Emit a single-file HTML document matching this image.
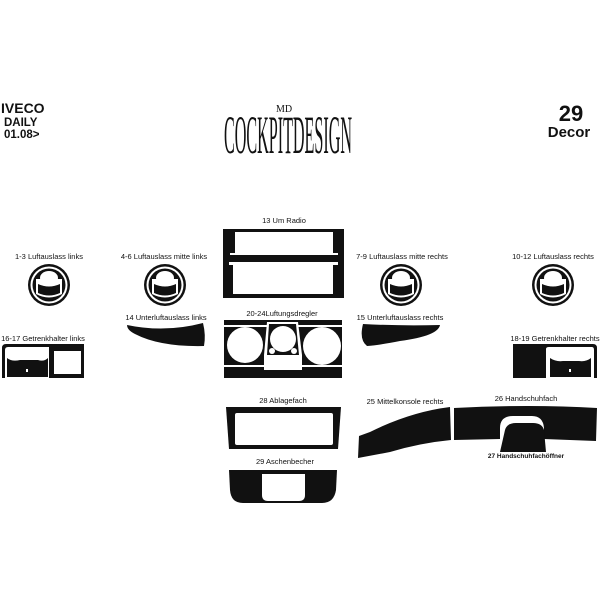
<!DOCTYPE html>
<html><head><meta charset="utf-8"><style>
html,body{margin:0;padding:0;background:#fff;}
svg{display:block}
text{font-family:"Liberation Sans",sans-serif;fill:#111}
</style></head><body>
<svg width="600" height="600" viewBox="0 0 600 600" xmlns="http://www.w3.org/2000/svg">
<rect width="600" height="600" fill="#fff"/>
<!-- header -->
<text x="1" y="113" font-size="14" font-weight="bold">IVECO</text>
<text x="4" y="126" font-size="11.5" font-weight="bold">DAILY</text>
<text x="4" y="138" font-size="11.5" font-weight="bold">01.08&gt;</text>
<text x="571" y="121" font-size="22" font-weight="bold" text-anchor="middle">29</text>
<text x="569" y="137" font-size="15" font-weight="bold" text-anchor="middle">Decor</text>
<text x="288" y="153" font-size="30" text-anchor="middle" textLength="128" lengthAdjust="spacingAndGlyphs" transform="translate(288 153) scale(1 1.8) translate(-288 -153)" style="font-family:'Liberation Serif',serif">COCKPITDESIGN</text>
<text x="284" y="112" font-size="10" text-anchor="middle" style="font-family:'Liberation Serif',serif">MD</text>

<!-- labels -->
<g font-size="7.5">
<text x="49" y="259" text-anchor="middle">1-3 Luftauslass links</text>
<text x="164" y="259" text-anchor="middle">4-6 Luftauslass mitte links</text>
<text x="284" y="223" text-anchor="middle">13 Um Radio</text>
<text x="402" y="259" text-anchor="middle">7-9 Luftauslass mitte rechts</text>
<text x="553" y="259" text-anchor="middle">10-12 Luftauslass rechts</text>
<text x="166" y="320" text-anchor="middle">14 Unterluftauslass links</text>
<text x="282" y="316" text-anchor="middle">20-24Luftungsdregler</text>
<text x="400" y="320" text-anchor="middle">15 Unterluftauslass rechts</text>
<text x="43" y="341" text-anchor="middle">16-17 Getrenkhalter links</text>
<text x="555" y="341" text-anchor="middle">18-19 Getrenkhalter rechts</text>
<text x="283" y="403" text-anchor="middle">28  Ablagefach</text>
<text x="405" y="404" text-anchor="middle">25 Mittelkonsole rechts</text>
<text x="526" y="401" text-anchor="middle">26 Handschuhfach</text>
<text x="285" y="464" text-anchor="middle">29 Aschenbecher</text>
<text x="526" y="458" text-anchor="middle" font-size="6.5" font-weight="bold">27 Handschuhfachöffner</text>
</g>

<!-- vents -->
<defs>
<g id="vent">
<circle cx="0" cy="0" r="21" fill="#111"/>
<circle cx="0" cy="0" r="18.5" fill="#fff"/>
<circle cx="0" cy="0" r="16.5" fill="#111"/>
<path d="M-13 -6 L-13 9 Q0 16 13 9 L13 -6 Z" fill="#fff"/>
<path d="M-11 -1 L-11 8 Q0 13 11 8 L11 -1 Q0 4 -11 -1Z" fill="#111"/>
<ellipse cx="0" cy="-7" rx="9" ry="7" fill="#fff"/>
</g>
</defs>
<use href="#vent" x="49" y="285"/>
<use href="#vent" x="165" y="285"/>
<use href="#vent" x="401" y="285"/>
<use href="#vent" x="553" y="285"/>

<!-- radio -->
<rect x="223" y="229" width="121" height="69" fill="#111"/>
<path d="M235 232 H333 V253 H338 V255 H230 V253 H235Z" fill="#fff"/>
<path d="M233 265 H229 V262 H338 V265 H333 V294 H233Z" fill="#fff"/>

<!-- vent regulator -->
<rect x="224" y="320" width="118" height="58" fill="#111"/>
<rect x="224" y="325" width="118" height="2" fill="#fff"/>
<rect x="224" y="365" width="118" height="2" fill="#fff"/>
<circle cx="245" cy="345" r="18" fill="#fff"/>
<circle cx="322" cy="346" r="19" fill="#fff"/>
<path d="M267 322 H298 L302 355 L302 370 H264 L264 355Z" fill="#fff"/>
<path d="M269 324 H296 L299 355 H267Z" fill="#111"/>
<circle cx="283" cy="339" r="13" fill="#fff"/>
<circle cx="272" cy="351" r="3" fill="#fff"/>
<circle cx="294" cy="351" r="3" fill="#fff"/>

<!-- under vents -->
<path d="M127 325 Q165 333 203 323 Q206 335 204 346 Q160 347 135 334 Q127 330 127 325Z" fill="#111"/>
<path d="M363 324 Q400 326 440 325 Q438 336 400 341 Q380 345 367 346 Q359 340 363 324Z" fill="#111"/>

<!-- cup holders -->
<path d="M2 378 V348 Q2 344 6 344 H84 V378Z" fill="#111"/>
<path d="M5 378 V350 Q5 347 8 347 H49 V378Z" fill="#fff"/>
<path d="M7 358 Q12 362 20 360 H38 Q44 362 48 358 V377 H7Z" fill="#111"/>
<rect x="26" y="369" width="2" height="3" fill="#fff"/>
<rect x="54" y="351" width="27" height="23" fill="#fff"/>
<path d="M513 378 V344 H593 Q597 344 597 348 V378Z" fill="#111"/>
<path d="M546 378 V349 Q546 347 549 347 H592 Q594 347 594 350 V378Z" fill="#fff"/>
<path d="M550 358 Q556 362 563 361 H579 Q586 362 591 358 V377 H550Z" fill="#111"/>
<rect x="569" y="369" width="2" height="3" fill="#fff"/>
<rect x="544" y="344" width="2" height="34" fill="#111"/>

<!-- Ablagefach -->
<path d="M226 407 H341 L338 449 H229Z" fill="#111"/>
<rect x="235" y="413" width="98" height="32" rx="2" fill="#fff"/>

<!-- Aschenbecher -->
<path d="M229 470 H337 L336 490 Q334 503 322 503 H243 Q231 503 230 490Z" fill="#111"/>
<path d="M262 474 H305 V495 Q305 501 299 501 H268 Q262 501 262 495Z" fill="#fff"/>

<!-- Mittelkonsole -->
<path d="M359 436 L370 432 Q410 412 450 407 L451 440 Q420 443 390 452 L358 458Z" fill="#111"/>

<!-- Handschuhfach -->
<path d="M454 408 Q530 404 597 408 L596 441 L544 439 V428 Q543 416 532 416 H513 Q500 416 500 428 V439 L454 440Z" fill="#111"/>
<path d="M505 430 Q507 423 516 423 H533 Q542 423 544 430 L546 452 H500Z" fill="#111"/>
</svg>
</body></html>
